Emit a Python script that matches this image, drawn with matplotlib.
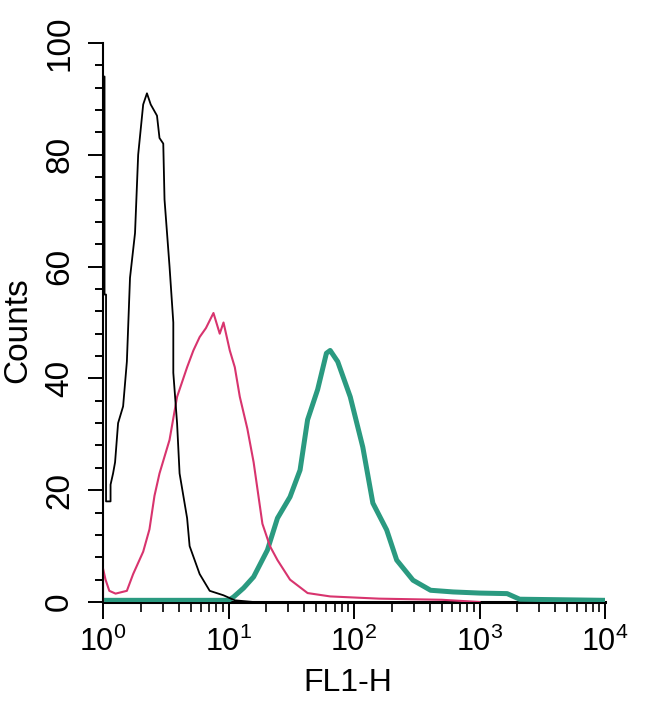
import numpy as np
import matplotlib
matplotlib.use("Agg")
import matplotlib.pyplot as plt
from matplotlib.ticker import MultipleLocator, LogLocator

plt.rcParams['font.family'] = ['Liberation Sans', 'DejaVu Sans']
plt.rcParams['mathtext.fontset'] = 'custom'
plt.rcParams['mathtext.rm'] = 'Liberation Sans'
plt.rcParams['mathtext.default'] = 'regular'

# histogram outlines: position in decades (log10 FL1-H), counts
black_log = [0.0, 0.0, 0.012, 0.012, 0.024, 0.024, 0.06, 0.06, 0.08, 0.096, 0.12, 0.16,
             0.19, 0.20, 0.215, 0.255, 0.28, 0.32, 0.35, 0.38, 0.43, 0.45, 0.48, 0.49,
             0.53, 0.56, 0.56, 0.59, 0.61, 0.67, 0.69, 0.77, 0.85, 0.96, 1.05, 1.2]
black_cnt = [0, 94, 94, 55, 55, 18, 18, 21, 23, 25, 32, 35,
             43, 49, 58, 66, 80, 89, 91, 89, 87, 83, 82, 72,
             60, 50, 41, 32, 23, 15, 10, 5, 2, 1.2, 0.3, 0]

pink_log = [0.0, 0.0, 0.02, 0.05, 0.10, 0.19, 0.24, 0.32, 0.37, 0.41, 0.45, 0.53,
            0.59, 0.67, 0.72, 0.77, 0.82, 0.88, 0.93, 0.96, 1.01, 1.05, 1.09, 1.15,
            1.20, 1.27, 1.33, 1.39, 1.49, 1.63, 1.81, 2.2, 2.7, 3.0]
pink_cnt = [0, 6, 4, 2, 1.5, 2, 5, 9, 13, 19, 23, 29,
            36.7, 42, 45, 47.4, 49, 51.7, 48, 50, 45, 42, 36.7, 31,
            25, 14, 10, 7.5, 4, 1.6, 1.0, 0.6, 0.4, 0]

teal_log = [0.0, 1.0, 1.04, 1.12, 1.20, 1.31, 1.39, 1.49, 1.57, 1.63, 1.71, 1.78,
            1.81, 1.87, 1.97, 2.07, 2.15, 2.26, 2.34, 2.47, 2.61, 2.79, 3.0, 3.22,
            3.32, 4.0]
teal_cnt = [0.3, 0.3, 0.9, 2.5, 4.5, 9.3, 15, 18.8, 23.6, 32.6, 38, 44.5,
            45, 43, 36.7, 27.7, 17.7, 12.9, 7.5, 3.9, 2.1, 1.8, 1.6, 1.5,
            0.5, 0.3]

y_ticks = [0, 20, 40, 60, 80, 100]

fig = plt.figure(figsize=(6.5, 7.06), dpi=100)
ax = fig.add_axes([0.1585, 0.1473, 0.7723, 0.7918])

ax.plot(np.power(10.0, teal_log), teal_cnt, color='#2a9a80', lw=3.6, zorder=3)
ax.plot(np.power(10.0, pink_log), pink_cnt, color='#d8346e', lw=1.5, zorder=4)
ax.plot(np.power(10.0, black_log), black_cnt, color='black', lw=1.3, zorder=5)

ax.set_xscale('log')
ax.set_xlim(1, 1e4)
ax.set_ylim(0, 100)

ax.spines['top'].set_visible(False)
ax.spines['right'].set_visible(False)
ax.spines['left'].set_linewidth(1.5)
ax.spines['bottom'].set_linewidth(2.2)

ax.set_yticks(y_ticks)
ax.yaxis.set_minor_locator(MultipleLocator(4))
ax.xaxis.set_major_locator(LogLocator(base=10, numticks=10))
ax.xaxis.set_minor_locator(LogLocator(base=10, subs=np.arange(2, 10), numticks=10))

ax.tick_params(axis='y', which='major', length=11, width=1.4, pad=9, labelsize=24,
               labelrotation=90)
ax.tick_params(axis='y', which='minor', length=6, width=1.4)
ax.tick_params(axis='x', which='major', length=12, width=1.4, pad=6, labelsize=22)
ax.tick_params(axis='x', which='minor', length=7, width=1.2)
for lab in ax.get_yticklabels():
    lab.set_verticalalignment('center')

ax.set_ylabel('Counts', fontsize=24)
ax.yaxis.set_label_coords(-0.139, 0.487)
ax.set_xlabel('FL1-H', fontsize=23, va='top')
ax.xaxis.set_label_coords(0.487, -0.118)

fig.savefig('out.png', dpi=100)
